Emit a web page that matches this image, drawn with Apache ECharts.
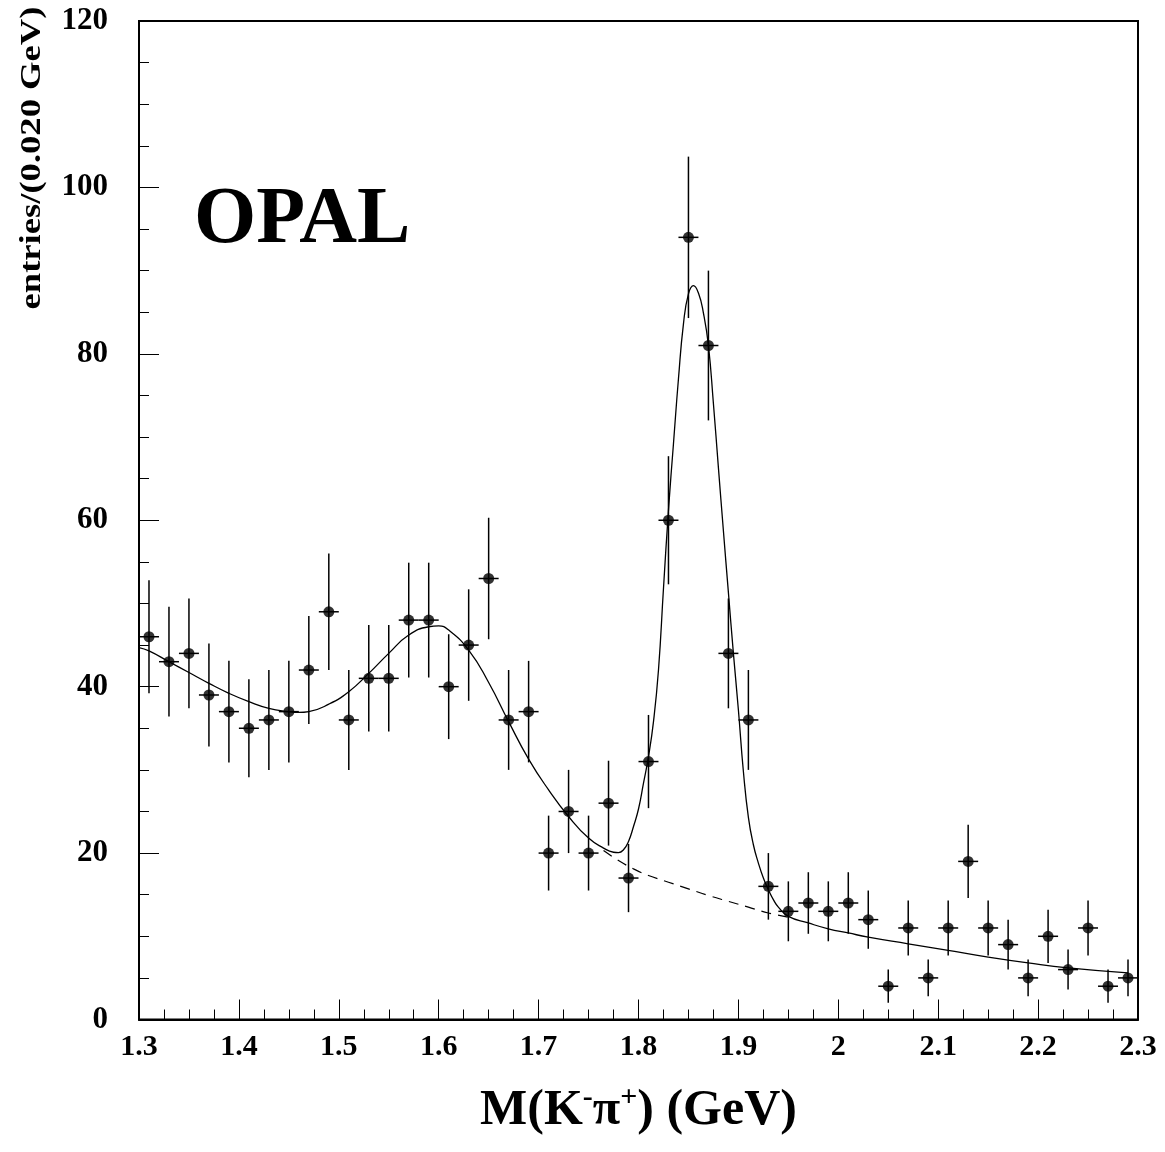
<!DOCTYPE html>
<html>
<head>
<meta charset="utf-8">
<title>OPAL M(K-pi+)</title>
<script src="https://cdn.jsdelivr.net/npm/echarts@6/dist/echarts.min.js"></script>
<style>
  html, body { margin: 0; padding: 0; background: #fff; }
  #chart { width: 1165px; height: 1152px; }
</style>
</head>
<body>
<div id="chart"></div>
<script>
// Bin centres of the K- pi+ invariant mass histogram (GeV), 0.020 GeV bins
const binCentres = [
  1.31, 1.33, 1.35, 1.37, 1.39, 1.41, 1.43, 1.45, 1.47, 1.49,
  1.51, 1.53, 1.55, 1.57, 1.59, 1.61, 1.63, 1.65, 1.67, 1.69,
  1.71, 1.73, 1.75, 1.77, 1.79, 1.81, 1.83, 1.85, 1.87, 1.89,
  1.91, 1.93, 1.95, 1.97, 1.99, 2.01, 2.03, 2.05, 2.07, 2.09,
  2.11, 2.13, 2.15, 2.17, 2.19, 2.21, 2.23, 2.25, 2.27, 2.29
];
const binWidth = 0.02;

// Entries per bin
const entries = [
  46, 43, 44, 39, 37, 35, 36, 37, 42, 49,
  36, 41, 41, 48, 48, 40, 45, 53, 36, 37,
  20, 25, 20, 26, 17, 31, 60, 94, 81, 44,
  36, 16, 13, 14, 13, 14, 12, 4, 11, 5,
  11, 19, 11, 9, 5, 10, 6, 11, 4, 5
];

// Statistical uncertainty on each bin (half-length of the vertical bar)
const entryErrors = [
  6.8, 6.6, 6.6, 6.2, 6.1, 5.9, 6.0, 6.1, 6.5, 7.0,
  6.0, 6.4, 6.4, 6.9, 6.9, 6.3, 6.7, 7.3, 6.0, 6.1,
  4.5, 5.0, 4.5, 5.1, 4.1, 5.6, 7.7, 9.7, 9.0, 6.6,
  6.0, 4.0, 3.6, 3.7, 3.6, 3.7, 3.5, 2.0, 3.3, 2.2,
  3.3, 4.4, 3.3, 3.0, 2.2, 3.2, 2.4, 3.3, 2.0, 2.2
];

// Full fit (signal + background), sampled along the mass axis
const fitMass = [
  1.30, 1.31, 1.33, 1.35, 1.37, 1.39, 1.41, 1.43, 1.45, 1.46,
  1.47, 1.49, 1.51, 1.53, 1.55, 1.57, 1.59, 1.60, 1.61, 1.63,
  1.65, 1.67, 1.69, 1.71, 1.73, 1.75, 1.765, 1.775, 1.78, 1.785,
  1.79, 1.795, 1.80, 1.805, 1.81, 1.815, 1.82, 1.825, 1.83, 1.835,
  1.84, 1.845, 1.85, 1.855, 1.86, 1.865, 1.87, 1.875, 1.88, 1.885,
  1.89, 1.895, 1.90, 1.905, 1.91, 1.915, 1.92, 1.925, 1.93, 1.935,
  1.94, 1.95, 1.97, 1.99, 2.01, 2.03, 2.07, 2.11, 2.15, 2.19,
  2.23, 2.29
];
const fitValues = [
  44.7, 44.3, 43.0, 41.7, 40.4, 39.2, 38.2, 37.4, 37.0, 36.9,
  37.0, 37.9, 39.4, 41.6, 44.0, 46.2, 47.2, 47.3, 46.8, 44.4,
  40.5, 35.8, 31.3, 27.6, 24.4, 21.8, 20.6, 20.1, 20.05, 20.4,
  21.4, 23.2, 25.3, 28.4, 31.6, 35.8, 42.0, 51.8, 61.2, 69.2,
  77.0, 83.6, 87.2, 88.2, 87.3, 84.9, 81.0, 74.0, 66.3, 58.7,
  51.3, 44.0, 37.2, 29.8, 24.3, 21.0, 18.8, 17.0, 15.6, 14.4,
  13.5, 12.4, 11.6, 10.9, 10.4, 9.9, 9.1, 8.3, 7.5, 6.8,
  6.2, 5.6
];

// Background-only component under the signal peak
const bkgMass = [1.765, 1.78, 1.795, 1.81, 1.83, 1.85, 1.87, 1.89, 1.91, 1.93, 1.95];
const bkgValues = [20.3, 19.1, 18.1, 17.3, 16.5, 15.7, 14.9, 14.2, 13.5, 12.8, 12.3];

const FONT = 'Liberation Serif, Times New Roman, serif';

const points = binCentres.map((m, i) => [m, entries[i], entryErrors[i]]);
const fitLine = fitMass.map((m, i) => [m, fitValues[i]]);
const bkgLine = bkgMass.map((m, i) => [m, bkgValues[i]]);

const chart = echarts.init(document.getElementById('chart'), null, { renderer: 'canvas' });

chart.setOption({
  backgroundColor: '#ffffff',
  animation: false,
  grid: {
    left: 139, right: 27, top: 21, bottom: 132.5,
    show: true, borderColor: '#000', borderWidth: 2, backgroundColor: 'transparent'
  },
  xAxis: {
    type: 'value',
    min: 1.3, max: 2.3, interval: 0.1,
    name: '{t|M(K}{sup|-}{t|π}{sup|+}{t|) (GeV)}',
    nameLocation: 'middle',
    nameGap: 64,
    nameTextStyle: {
      rich: {
        t: { fontFamily: FONT, fontWeight: 'bold', fontSize: 50, color: '#000' },
        sup: { fontFamily: FONT, fontWeight: 'bold', fontSize: 30, color: '#000', padding: [0, 0, 26, 0] }
      }
    },
    axisLine: { show: true, onZero: false, lineStyle: { color: '#000', width: 2 } },
    axisTick: { show: true, inside: true, length: 20, lineStyle: { color: '#000', width: 1 } },
    minorTick: { show: true, splitNumber: 4, length: 10, lineStyle: { color: '#000', width: 1 } },
    splitLine: { show: false },
    axisLabel: {
      margin: 13,
      fontFamily: FONT, fontWeight: 'bold', fontSize: 30, color: '#000',
      formatter: v => String(Math.round(v * 10) / 10)
    }
  },
  yAxis: {
    type: 'value',
    min: 0, max: 120, interval: 20,
    axisLine: { show: true, lineStyle: { color: '#000', width: 2 } },
    axisTick: { show: true, inside: true, length: 20, lineStyle: { color: '#000', width: 1 } },
    minorTick: { show: true, splitNumber: 4, length: 10, lineStyle: { color: '#000', width: 1 } },
    splitLine: { show: false },
    axisLabel: {
      margin: 31,
      fontFamily: FONT, fontWeight: 'bold', fontSize: 31, color: '#000'
    }
  },
  graphic: [
    {
      type: 'text',
      left: 194, top: 181,
      style: { text: 'OPAL', fontFamily: FONT, fontWeight: 'bold', fontSize: 80, fill: '#000' }
    },
    {
      type: 'text',
      x: 32, y: 158,
      rotation: Math.PI / 2,
      style: {
        text: 'entries/(0.020 GeV)',
        fontFamily: FONT, fontWeight: 'bold', fontSize: 30, fill: '#000',
        align: 'center', verticalAlign: 'middle'
      },
      scaleX: 1.22
    }
  ],
  series: [
    {
      // background-only component, dashed
      type: 'line',
      data: bkgLine,
      showSymbol: false,
      smooth: 0.4,
      lineStyle: { color: '#000', width: 1.2, type: [10, 7] },
      z: 2
    },
    {
      // full fit
      type: 'line',
      data: fitLine,
      showSymbol: false,
      smooth: 0.5,
      lineStyle: { color: '#000', width: 1.3 },
      z: 3
    },
    {
      // error bars: vertical statistical error, horizontal bin width
      type: 'custom',
      data: points,
      z: 4,
      renderItem: function (params, api) {
        const m = api.value(0), n = api.value(1), e = api.value(2);
        const top = api.coord([m, n + e]);
        const bot = api.coord([m, n - e]);
        const left = api.coord([m - binWidth / 2, n]);
        const right = api.coord([m + binWidth / 2, n]);
        const style = { stroke: '#000', lineWidth: 1.5 };
        return {
          type: 'group',
          children: [
            { type: 'line', shape: { x1: top[0], y1: top[1], x2: bot[0], y2: bot[1] }, style: style },
            { type: 'line', shape: { x1: left[0], y1: left[1], x2: right[0], y2: right[1] }, style: style }
          ]
        };
      }
    },
    {
      type: 'scatter',
      data: points.map(p => [p[0], p[1]]),
      symbol: 'circle',
      symbolSize: 11,
      itemStyle: { color: '#000' },
      z: 5
    }
  ]
});
</script>
</body>
</html>
